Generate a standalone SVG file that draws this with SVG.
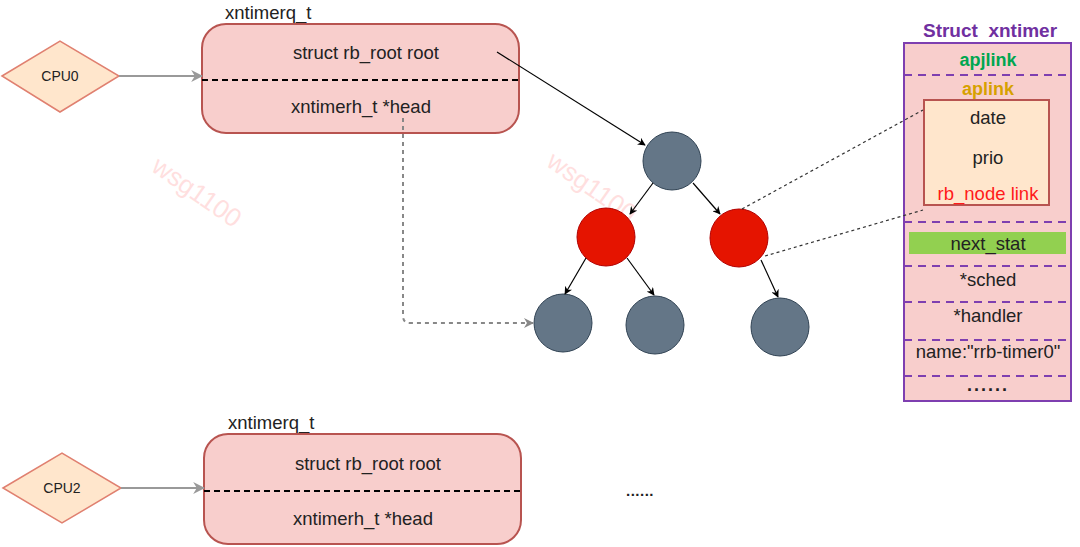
<svg xmlns="http://www.w3.org/2000/svg" width="1080" height="547" viewBox="0 0 1080 547">
<defs>
<style>
text{font-family:"Liberation Sans",Arial,sans-serif;fill:#222}
.lbl{font-size:18.5px}
.mid{text-anchor:middle}
.q{fill:#f8cecc;stroke:#b85450;stroke-width:2}
.cpu{fill:#ffe6cc;stroke:#e08070;stroke-width:1.5}
.sep{stroke:#000;stroke-width:2;stroke-dasharray:6 4}
.gn{fill:#647687;stroke:#314354;stroke-width:1}
.rn{fill:#e51400;stroke:#b20000;stroke-width:1}
.pd{stroke:#7e3fb0;stroke-width:2;stroke-dasharray:8 6}
.wm{font-size:26px;fill:#ff9999;opacity:0.3}
.hd{font-size:18px;font-weight:bold}
</style>
<marker id="ab" viewBox="0 0 10 10" refX="9" refY="5" markerWidth="8" markerHeight="8" orient="auto" markerUnits="userSpaceOnUse"><path d="M0,0 L10,5 L0,10 L3,5 z" fill="#000"/></marker>
<marker id="ag" viewBox="0 0 10 10" refX="9" refY="5" markerWidth="12" markerHeight="12" orient="auto" markerUnits="userSpaceOnUse"><path d="M0,0 L10,5 L0,10 L3,5 z" fill="#999"/></marker>
<marker id="ag2" viewBox="0 0 10 10" refX="9" refY="5" markerWidth="10" markerHeight="10" orient="auto" markerUnits="userSpaceOnUse"><path d="M0,0 L10,5 L0,10 L3,5 z" fill="#888"/></marker>
</defs>

<g id="watermarks">
<text class="wm" transform="translate(150,170) rotate(35)">wsg1100</text>
<text class="wm" transform="translate(545,165) rotate(35)">wsg1100</text>
<text class="wm" transform="translate(940,160) rotate(55)">wsg1100</text>
</g>

<g id="cpu0">
<polygon class="cpu" points="2,76 60,41 119,76 60,112"/>
<text x="60" y="81" class="mid" style="font-size:14px">CPU0</text>
</g>

<g id="queue0">
<text x="225" y="19" class="lbl">xntimerq_t</text>
<rect class="q" x="202" y="24" width="317" height="109" rx="24"/>
<line class="sep" x1="202" y1="80" x2="519" y2="80"/>
<text x="366" y="59" class="lbl mid">struct rb_root root</text>
<text x="361" y="113" class="lbl mid">xntimerh_t *head</text>
</g>

<g id="cpu2">
<polygon class="cpu" points="3,488 62,453 121,488 62,523"/>
<text x="62" y="493" class="mid" style="font-size:14px">CPU2</text>
</g>

<g id="queue2">
<text x="228" y="429" class="lbl">xntimerq_t</text>
<rect class="q" x="204" y="434" width="317" height="110" rx="24"/>
<line class="sep" x1="204" y1="491" x2="521" y2="491"/>
<text x="368" y="470" class="lbl mid">struct rb_root root</text>
<text x="363" y="525" class="lbl mid">xntimerh_t *head</text>
</g>

<g id="ellipsis">
<text x="640" y="496" class="mid" style="font-size:15px;font-weight:bold;letter-spacing:0.5px">......</text>
</g>

<g id="tree">
<circle id="n-root" class="gn" cx="672" cy="161" r="29"/>
<circle id="n-l" class="rn" cx="606" cy="237" r="29"/>
<circle id="n-r" class="rn" cx="739" cy="238" r="29"/>
<circle id="n-ll" class="gn" cx="563" cy="323" r="29"/>
<circle id="n-lr" class="gn" cx="655" cy="325" r="29"/>
<circle id="n-rr" class="gn" cx="780" cy="327" r="29"/>
</g>

<g id="xntimer">
<text x="990" y="37" class="mid hd" style="font-size:19px;fill:#7030a0;white-space:pre" xml:space="preserve">Struct  xntimer</text>
<rect x="904" y="43" width="167" height="358" fill="#f8cecc" stroke="#7e3fb0" stroke-width="2"/>
<text x="988" y="66" class="mid hd" style="fill:#00a650">apjlink</text>
<line class="pd" x1="904" y1="75" x2="1071" y2="75"/>
<text x="988" y="95" class="mid hd" style="fill:#d6a100">aplink</text>
<rect x="924" y="100" width="125" height="105" fill="#ffe6cc" stroke="#b85450" stroke-width="2"/>
<text x="988" y="124" class="lbl mid">date</text>
<text x="988" y="164" class="lbl mid">prio</text>
<text x="988" y="200" class="lbl mid" style="fill:#ff1a1a">rb_node link</text>
<line class="pd" x1="904" y1="222" x2="1071" y2="222"/>
<rect x="909" y="232" width="157" height="22" fill="#92d050"/>
<text x="988" y="250" class="lbl mid">next_stat</text>
<line class="pd" x1="904" y1="266" x2="1071" y2="266"/>
<text x="988" y="286" class="lbl mid">*sched</text>
<line class="pd" x1="904" y1="302" x2="1071" y2="302"/>
<text x="988" y="322" class="lbl mid">*handler</text>
<line class="pd" x1="904" y1="340" x2="1071" y2="340"/>
<text x="988" y="358" class="lbl mid">name:"rrb-timer0"</text>
<line class="pd" x1="904" y1="376" x2="1071" y2="376"/>
<text x="988" y="391" class="mid" style="font-size:18px;font-weight:bold;letter-spacing:2px">......</text>
</g>

<g id="connectors" fill="none">
<line x1="119" y1="76" x2="202" y2="76" stroke="#999" stroke-width="2" marker-end="url(#ag)"/>
<line x1="121" y1="488" x2="204" y2="488" stroke="#999" stroke-width="2" marker-end="url(#ag)"/>
<line x1="497" y1="52" x2="645" y2="145" stroke="#000" stroke-width="1.2" marker-end="url(#ab)"/>
<line x1="653" y1="183" x2="630" y2="214" stroke="#000" stroke-width="1.2" marker-end="url(#ab)"/>
<line x1="693" y1="183" x2="720" y2="214" stroke="#000" stroke-width="1.2" marker-end="url(#ab)"/>
<line x1="586" y1="258" x2="565" y2="294" stroke="#000" stroke-width="1.2" marker-end="url(#ab)"/>
<line x1="627" y1="258" x2="654" y2="295" stroke="#000" stroke-width="1.2" marker-end="url(#ab)"/>
<line x1="761" y1="260" x2="778" y2="297" stroke="#000" stroke-width="1.2" marker-end="url(#ab)"/>
<path d="M403,118 L403,316 Q403,323 410,323 L533,323" stroke="#888" stroke-width="2" stroke-dasharray="4 4" marker-end="url(#ag2)"/>
<line x1="742" y1="209" x2="923" y2="110" stroke="#333" stroke-width="1.2" stroke-dasharray="3 3"/>
<line x1="765" y1="256" x2="923" y2="210" stroke="#333" stroke-width="1.2" stroke-dasharray="3 3"/>
</g>
</svg>
